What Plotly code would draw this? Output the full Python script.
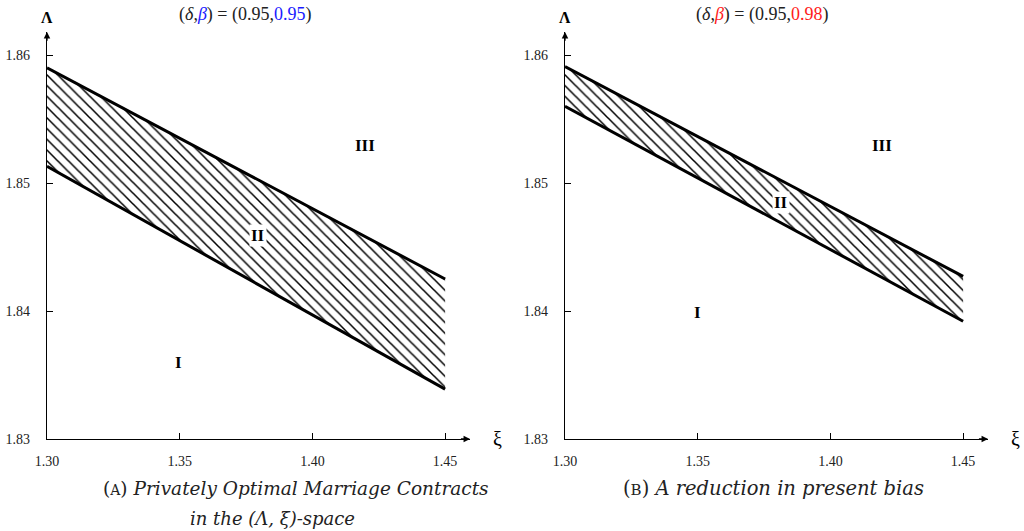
import plotly.graph_objects as go

# ---- data ----
xi = [1.30, 1.45]
upper_A = [1.8590, 1.8425]
lower_A = [1.8513, 1.8339]
upper_B = [1.8591, 1.8427]
lower_B = [1.8560, 1.8392]

x_ticks = [1.30, 1.35, 1.40, 1.45]
y_ticks = [1.83, 1.84, 1.85, 1.86]

labels_A = {"I": (1.3497, 1.8360), "II": (1.3795, 1.8459), "III": (1.4200, 1.8529)}
labels_B = {"I": (1.3500, 1.8399), "II": (1.3814, 1.8485), "III": (1.4194, 1.8529)}

X_RANGE = [1.30, 1.4594]
Y_RANGE = [1.83, 1.8618]

W, H = 1024, 531
SERIF = "Liberation Serif"
CAP = "DejaVu Serif"

fig = go.Figure()

def band(lower, upper, xa, ya):
    fig.add_trace(go.Scatter(x=xi, y=lower, mode="lines", xaxis=xa, yaxis=ya,
                             line=dict(color="black", width=3), showlegend=False,
                             hoverinfo="skip"))
    fig.add_trace(go.Scatter(x=xi, y=upper, mode="lines", xaxis=xa, yaxis=ya,
                             fill="tonexty", fillcolor="rgba(0,0,0,0)",
                             fillpattern=dict(shape="\\", size=7.6, solidity=0.2,
                                              fgcolor="black", fgopacity=1, bgcolor="white"),
                             line=dict(color="black", width=3), showlegend=False,
                             hoverinfo="skip"))

band(lower_A, upper_A, "x", "y")
band(lower_B, upper_B, "x2", "y2")

# pixel geometry
def px_x(p):
    return p / W
def px_y(p):
    return (H - p) / H

left_A = 47
left_B = 565
span_x = (X_RANGE[1] - X_RANGE[0]) / 0.05 * 132.7
ybot = 439
ytop = ybot - (Y_RANGE[1] - Y_RANGE[0]) / 0.01 * 128

axis_common = dict(showgrid=False, zeroline=False, showline=True, linecolor="black",
                   linewidth=1.3, ticks="inside", ticklen=6, tickwidth=1,
                   tickcolor="black", tickfont=dict(family=SERIF, size=14, color="#222"),
                   fixedrange=True, automargin=False)

fig.update_layout(
    width=W, height=H, margin=dict(l=0, r=0, t=0, b=0, autoexpand=False),
    plot_bgcolor="white", paper_bgcolor="white", showlegend=False,
    xaxis=dict(domain=[px_x(left_A), px_x(left_A + span_x)], range=X_RANGE,
               tickvals=x_ticks, tickformat=".2f", anchor="y", ticklabelstandoff=9, **axis_common),
    yaxis=dict(domain=[px_y(ybot), px_y(ytop)], range=Y_RANGE,
               tickvals=y_ticks, tickformat=".2f", anchor="x", ticklabelstandoff=13, **axis_common),
    xaxis2=dict(domain=[px_x(left_B), px_x(left_B + span_x)], range=X_RANGE,
                tickvals=x_ticks, tickformat=".2f", anchor="y2", ticklabelstandoff=9, **axis_common),
    yaxis2=dict(domain=[px_y(ybot), px_y(ytop)], range=Y_RANGE,
                tickvals=y_ticks, tickformat=".2f", anchor="x2", ticklabelstandoff=13, **axis_common),
)

ann = []
for xr, yr in (("x", "y"), ("x2", "y2")):
    # arrowheads
    ann.append(dict(x=X_RANGE[1], y=Y_RANGE[0], ax=X_RANGE[1] - 0.004, ay=Y_RANGE[0],
                    xref=xr, yref=yr, axref=xr, ayref=yr, text="", showarrow=True,
                    arrowhead=2, arrowsize=1, arrowwidth=1.3, arrowcolor="black"))
    ann.append(dict(x=X_RANGE[0], y=Y_RANGE[1], ax=X_RANGE[0], ay=Y_RANGE[1] - 0.0008,
                    xref=xr, yref=yr, axref=xr, ayref=yr, text="", showarrow=True,
                    arrowhead=2, arrowsize=1, arrowwidth=1.3, arrowcolor="black"))

def region_labels(lbls, xr, yr):
    for k, (x, y) in lbls.items():
        ann.append(dict(x=x, y=y, xref=xr, yref=yr, text="<b>%s</b>" % k, showarrow=False,
                        xanchor="center", yanchor="middle",
                        font=dict(family=SERIF, size=17, color="black"),
                        bgcolor="white" if k == "II" else None, borderpad=1))

region_labels(labels_A, "x", "y")
region_labels(labels_B, "x2", "y2")

def paper_text(px, py, text, size, color="#222", family=SERIF):
    ann.append(dict(x=px_x(px), y=px_y(py), xref="paper", yref="paper", text=text,
                    showarrow=False, xanchor="center", yanchor="middle",
                    font=dict(family=family, size=size, color=color)))

# axis name labels
for lx, xx in ((47, 497), (565, 1015)):
    paper_text(lx, 17, "<b>Λ</b>", 16, "black")
    paper_text(xx, 439, "ξ", 20, "black")

# titles
paper_text(245, 15, "(<i>δ</i>,<i><span style='color:#1a1aff'>β</span></i>) = (0.95,<span style='color:#1a1aff'>0.95</span>)", 18)
paper_text(762, 15, "(<i>δ</i>,<i><span style='color:#ff1a1a'>β</span></i>) = (0.95,<span style='color:#ff1a1a'>0.98</span>)", 18)

# captions
paper_text(296, 488, "(<span style='font-size:14px'>A</span>) <i>Privately Optimal Marriage Contracts</i>", 18.5, family=CAP)
paper_text(272, 518, "<i>in the (Λ, ξ)-space</i>", 18, family=CAP)
paper_text(773, 488, "(<span style='font-size:15px'>B</span>) <i>A reduction in present bias</i>", 19.5, family=CAP)

fig.update_layout(annotations=ann)
fig.write_html("out.html", config={"displayModeBar": False},
               post_script="document.body.style.margin='0';")
